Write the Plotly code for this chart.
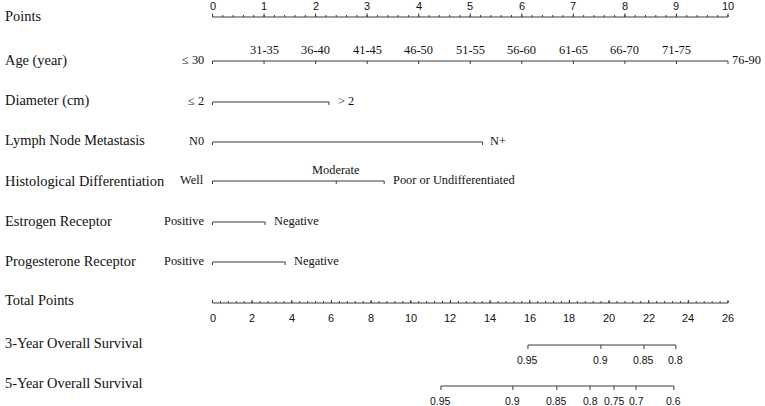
import plotly.graph_objects as go

# ---------------- data ----------------
POINTS_MAX = 10
TOTAL_MAX = 26
points_ticks = list(range(0, 11))
points_minor = [i / 5 for i in range(0, 51)]
total_ticks = list(range(0, 27, 2))
total_minor = [i * 0.4 for i in range(0, 66)]

row_names = ["Points", "Age (year)", "Diameter (cm)", "Lymph Node Metastasis",
             "Histological Differentiation", "Estrogen Receptor",
             "Progesterone Receptor", "Total Points",
             "3-Year Overall Survival", "5-Year Overall Survival"]

age_labels = ["≤ 30", "31-35", "36-40", "41-45", "46-50", "51-55", "56-60",
              "61-65", "66-70", "71-75", "76-90"]
age_points = [0, 1, 2, 3, 4, 5, 6, 7, 8, 9, 10]

diam_labels = ["≤ 2", "> 2"]
diam_points = [0, 2.26]

lymph_labels = ["N0", "N+"]
lymph_points = [0, 5.24]

hist_labels = ["Well", "Moderate", "Poor or Undifferentiated"]
hist_points = [0, 2.40, 3.33]

er_labels = ["Positive", "Negative"]
er_points = [0, 1.02]

pr_labels = ["Positive", "Negative"]
pr_points = [0, 1.41]

os3_labels = ["0.95", "0.9", "0.85", "0.8"]
os3_total = [15.91, 19.59, 21.76, 23.37]

os5_labels = ["0.95", "0.9", "0.85", "0.8", "0.75", "0.7", "0.6"]
os5_total = [11.52, 15.15, 17.37, 19.04, 20.25, 21.36, 23.27]

# ---------------- layout constants (pixels) ----------------
W, H = 765, 406
X0_PX, PX_PER_PT = 212.5, 51.55
row_y = [17, 61, 102, 142, 181, 222, 262, 303, 345, 386]   # line y positions
label_y = [16, 60, 100, 140, 181, 221, 261, 300, 343, 383]  # left label y
LINE_COL = "#3a3a3a"
SERIF = "Liberation Serif"
SANS = "Liberation Sans"


def tp_to_pts(v):
    return v * POINTS_MAX / TOTAL_MAX


fig = go.Figure()


def add_segments(xs, y0, y1, width=1):
    X, Y = [], []
    for x in xs:
        X += [x, x, None]
        Y += [y0, y1, None]
    fig.add_trace(go.Scatter(x=X, y=Y, mode="lines", hoverinfo="skip",
                             line=dict(color=LINE_COL, width=width), showlegend=False))


def add_hline(x0, x1, y):
    fig.add_trace(go.Scatter(x=[x0, x1], y=[y, y], mode="lines", hoverinfo="skip",
                             line=dict(color=LINE_COL, width=1), showlegend=False))


annotations = []


def ann(text, x, y, xanchor="center", size=12.4, font=SERIF, xshift=0, xref="x"):
    annotations.append(dict(text=text, x=x, y=y, xref=xref, yref="y",
                            xanchor=xanchor, yanchor="middle", showarrow=False,
                            xshift=xshift,
                            font=dict(family=font, size=size, color="#111")))


# left row labels
for name, ly in zip(row_names, label_y):
    ann(name, 3 / W, ly, xanchor="left", size=14.4, xref="paper")

# Points axis (top)
y = row_y[0]
add_hline(points_ticks[0], points_ticks[-1], y)
add_segments(points_minor, y, y - 2)
add_segments(points_ticks, y, y - 3.5)
for t in points_ticks:
    ann(str(t), t, 6, size=11, font=SANS)


# categorical rows
def cat_row(labels, pts, y, right_gap=7):
    add_hline(min(pts), max(pts), y)
    add_segments(pts, y, y + 3)
    ann(labels[0], pts[0], y - 1, xanchor="right", xshift=-7)
    ann(labels[-1], pts[-1], y - 1, xanchor="left", xshift=right_gap)
    for lab, p in zip(labels[1:-1], pts[1:-1]):
        ann(lab, p, y - 11)


cat_row(age_labels, age_points, row_y[1], right_gap=2)
cat_row(diam_labels, diam_points, row_y[2])
cat_row(lymph_labels, lymph_points, row_y[3], right_gap=5)
cat_row(hist_labels, hist_points, row_y[4])
cat_row(er_labels, er_points, row_y[5])
cat_row(pr_labels, pr_points, row_y[6])

# Total points axis
y = row_y[7]
add_hline(tp_to_pts(0), tp_to_pts(TOTAL_MAX), y)
add_segments([tp_to_pts(v) for v in total_minor], y, y - 2)
add_segments([tp_to_pts(v) for v in total_ticks], y, y - 3)
for t in total_ticks:
    ann(str(t), tp_to_pts(t), y + 15, size=11, font=SANS)


# survival axes
def surv_row(labels, totals, y):
    xs = [tp_to_pts(v) for v in totals]
    add_hline(min(xs), max(xs), y)
    add_segments(xs, y, y + 4)
    for lab, x in zip(labels, xs):
        ann(lab, x, y + 15, size=10.5, font=SANS)


surv_row(os3_labels, os3_total, row_y[8])
surv_row(os5_labels, os5_total, row_y[9])

x_lo = -X0_PX / PX_PER_PT
x_hi = x_lo + W / PX_PER_PT

fig.update_layout(
    width=W, height=H,
    margin=dict(l=0, r=0, t=0, b=0),
    paper_bgcolor="white", plot_bgcolor="white",
    xaxis=dict(range=[x_lo, x_hi], visible=False, fixedrange=True),
    yaxis=dict(range=[H, 0], visible=False, fixedrange=True),
    annotations=annotations,
    showlegend=False,
)

fig.write_html("out.html", config={"displayModeBar": False},
               post_script="document.body.style.margin='0';document.body.style.overflow='hidden';")
